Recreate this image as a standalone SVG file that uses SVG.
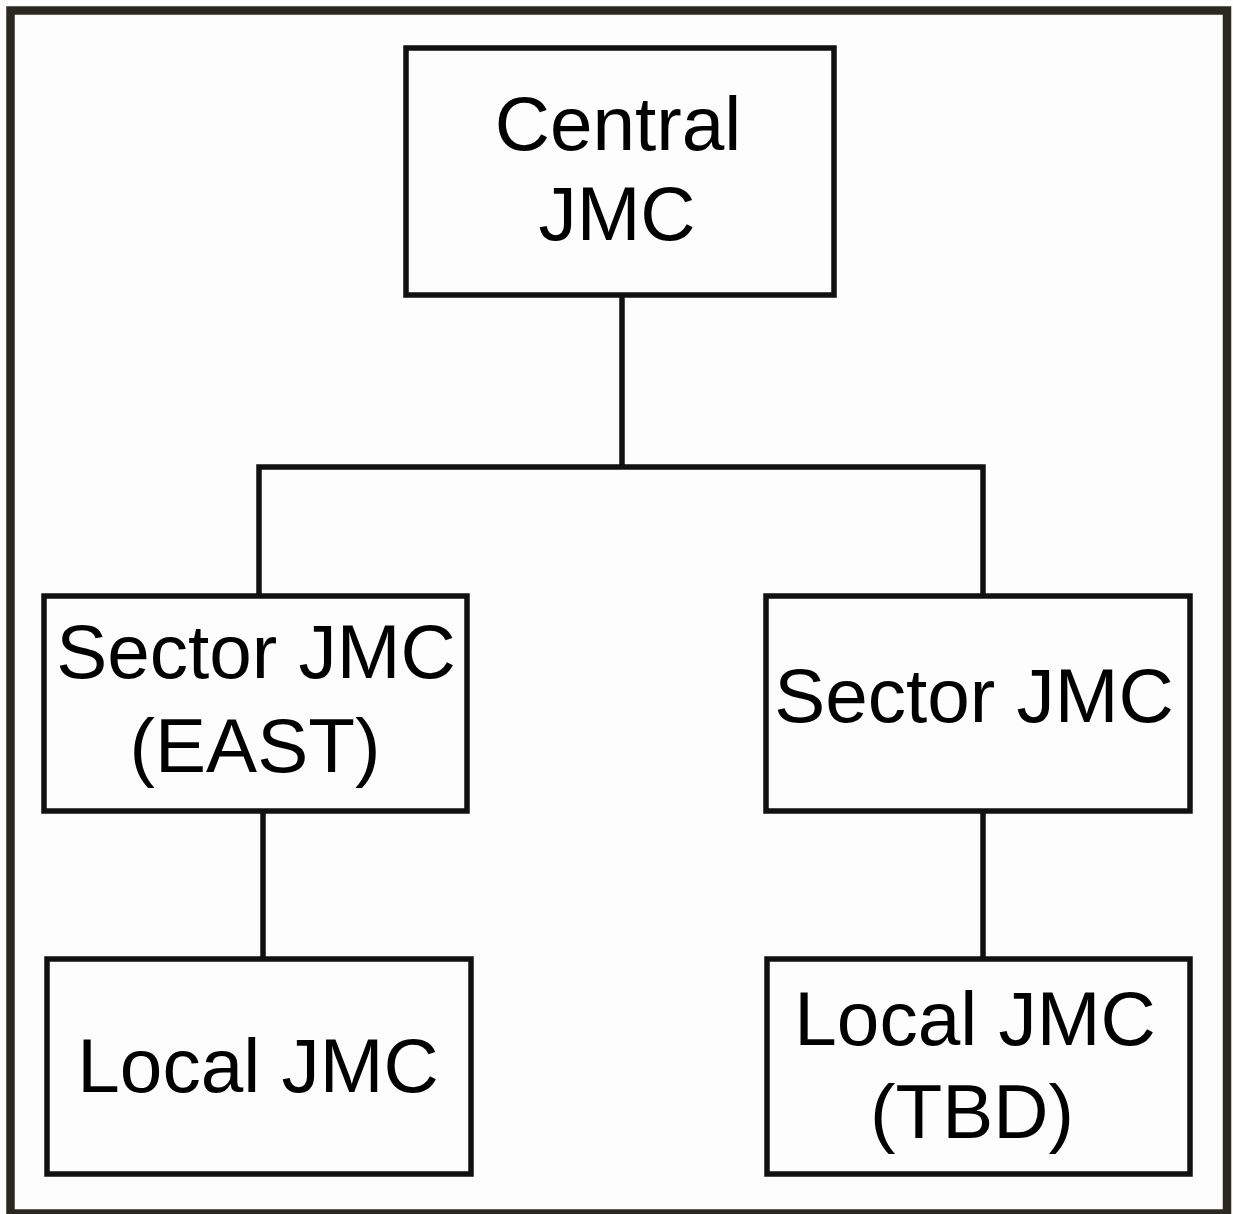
<svg xmlns="http://www.w3.org/2000/svg" width="1233" height="1214" viewBox="0 0 1233 1214">
<style>
.box{fill:none;stroke:#111;stroke-width:5.5}
.conn{fill:none;stroke:#111;stroke-width:5.5;stroke-linejoin:miter;stroke-linecap:butt}
.lbl{font-family:"Liberation Sans",Arial,sans-serif;font-size:76.5px;fill:#000;text-anchor:middle}
</style>
<rect x="0" y="0" width="1233" height="1214" fill="#fdfdfd"/>
<rect x="10.5" y="10.5" width="1216.5" height="1203" fill="none" stroke="#2b2820" stroke-width="8.5"/>
<g id="connectors">
<path class="conn" d="M622 295 V467"/>
<path class="conn" d="M259 596 V467 H983 V596"/>
<path class="conn" d="M263 811 V959"/>
<path class="conn" d="M983 811 V959"/>
</g>
<g id="central">
<rect class="box" x="406" y="48" width="428" height="247"/>
<text class="lbl" x="618" y="150">Central</text>
<text class="lbl" x="617" y="240">JMC</text>
</g>
<g id="sector-east">
<rect class="box" x="44" y="596" width="423" height="215"/>
<text class="lbl" x="256" y="678">Sector JMC</text>
<text class="lbl" x="255" y="772">(EAST)</text>
</g>
<g id="sector-right">
<rect class="box" x="766" y="596" width="424" height="215"/>
<text class="lbl" x="974" y="722">Sector JMC</text>
</g>
<g id="local-left">
<rect class="box" x="47" y="959" width="424" height="215"/>
<text class="lbl" x="258" y="1092">Local JMC</text>
</g>
<g id="local-right">
<rect class="box" x="767" y="959" width="423" height="215"/>
<text class="lbl" x="975" y="1045">Local JMC</text>
<text class="lbl" x="972" y="1138">(TBD)</text>
</g>
</svg>
